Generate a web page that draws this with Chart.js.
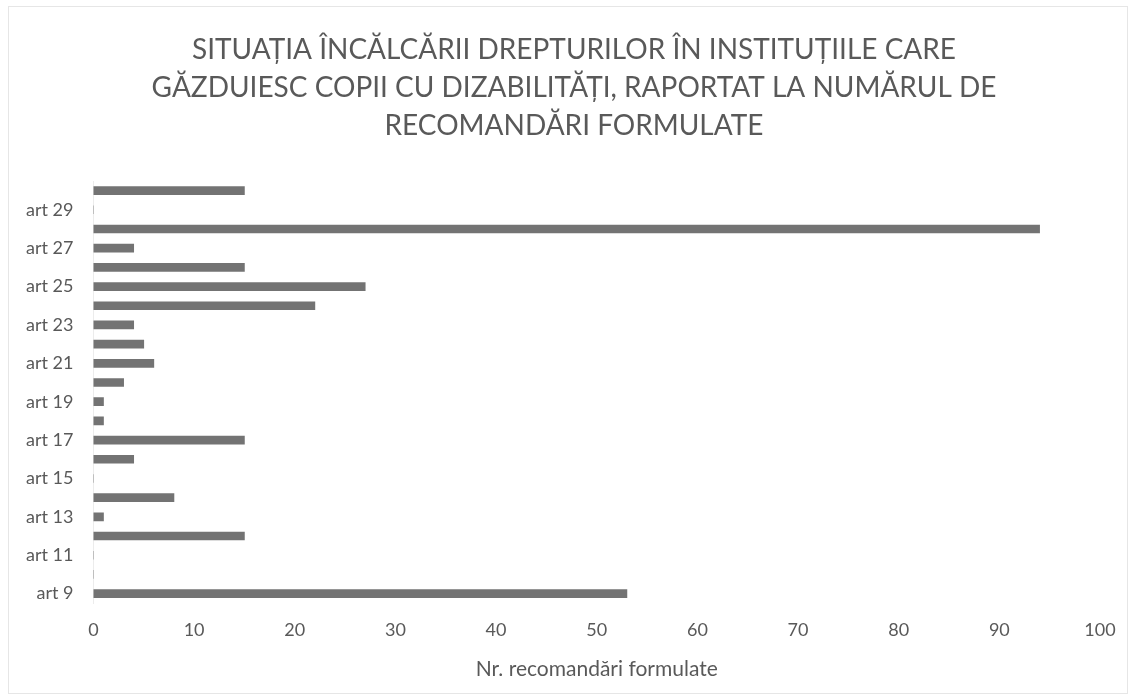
<!DOCTYPE html>
<html>
<head>
<meta charset="utf-8">
<script src="https://cdn.jsdelivr.net/npm/chart.js@4"></script>
<style>
  html, body { margin: 0; padding: 0; background: #fff; }
  #wrap { position: absolute; left: 8px; top: 6px; width: 1120px; height: 688px; border: 1px solid #e6e6e6; box-sizing: border-box; }
  canvas { position: absolute; left: 0; top: 0; }
</style>
</head>
<body>
<div id="wrap"></div>
<canvas id="chart" width="1136" height="700"></canvas>
<script>
// categories bottom -> top (art 9 at bottom)
const articles = ['art 9', 'art 10', 'art 11', 'art 12', 'art 13', 'art 14', 'art 15', 'art 16',
    'art 17', 'art 18', 'art 19', 'art 20', 'art 21', 'art 22', 'art 23', 'art 24',
    'art 25', 'art 26', 'art 27', 'art 28', 'art 29', 'art 30'];
const recommendations = [53, 0, 0, 15, 1, 8, 0, 4,
    15, 1, 1, 3, 6, 5, 4, 22,
    27, 15, 4, 94, 0, 15];
const xTicks = [0, 10, 20, 30, 40, 50, 60, 70, 80, 90, 100];
const titleLines = ['SITUAȚIA ÎNCĂLCĂRII DREPTURILOR ÎN INSTITUȚIILE CARE',
    'GĂZDUIESC COPII CU DIZABILITĂȚI, RAPORTAT LA NUMĂRUL DE',
    'RECOMANDĂRI FORMULATE'];
const axisTitle = 'Nr. recomandări formulate';

const textColor = '#595959';
const fontFamily = 'Lato, "Open Sans", sans-serif';

// the title sits a bit left of the plot centre, so it is drawn here
const chartTitle = {
    id: 'chartTitle',
    afterDraw(chart) {
        const c = chart.ctx;
        c.save();
        c.fillStyle = textColor;
        c.font = '28px ' + fontFamily;
        c.textAlign = 'center';
        c.textBaseline = 'middle';
        titleLines.forEach((line, i) => c.fillText(line, 574, 50 + i * 38));
        c.restore();
    }
};

const ctx = document.getElementById('chart').getContext('2d');
new Chart(ctx, {
    type: 'bar',
    data: {
        labels: articles,
        datasets: [{
            label: axisTitle,
            data: recommendations,
            backgroundColor: '#737373',
            barThickness: 8
        }]
    },
    options: {
        responsive: false,
        animation: false,
        indexAxis: 'y',
        layout: { padding: { left: 6, right: 36, top: 181, bottom: 18 } },
        plugins: {
            legend: { display: false },
            tooltip: { enabled: false },
            title: { display: false }
        },
        scales: {
            x: {
                min: 0,
                max: 100,
                afterBuildTicks: axis => { axis.ticks = xTicks.map(v => ({ value: v })); },
                grid: { display: false, drawTicks: false },
                border: { display: false },
                ticks: { color: textColor, font: { family: fontFamily, size: 18 }, padding: 16 },
                title: {
                    display: true,
                    text: axisTitle,
                    color: textColor,
                    font: { family: fontFamily, size: 21 },
                    padding: { top: 0, bottom: 0 }
                }
            },
            y: {
                reverse: true,
                grid: { display: false, drawTicks: false },
                border: { display: true, color: '#ececec' },
                ticks: {
                    autoSkip: false,
                    color: textColor,
                    font: { family: fontFamily, size: 18 },
                    padding: 20,
                    callback: function(value, index) {
                        return index % 2 === 0 ? this.getLabelForValue(value) : '';
                    }
                }
            }
        }
    },
    plugins: [chartTitle]
});
</script>
</body>
</html>
